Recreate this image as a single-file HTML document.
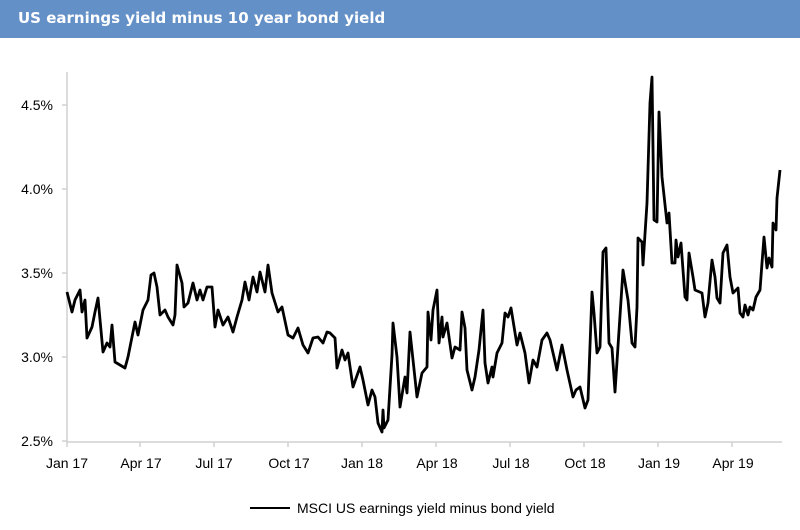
<!DOCTYPE html>
<html><head><meta charset="utf-8"><style>
body{margin:0;background:#fff;width:800px;height:530px;overflow:hidden;font-family:"Liberation Sans",Arial,sans-serif}
.t{position:absolute;left:0;top:0;width:800px;height:38px;background:#6490c8;color:#fff;font-family:"DejaVu Sans",sans-serif;font-weight:bold;font-size:15px;line-height:36px;padding-left:18px;box-sizing:border-box}
</style></head><body>
<div class="t">US earnings yield minus 10 year bond yield</div>
<svg width="800" height="530" style="position:absolute;left:0;top:0" font-family="Liberation Sans, Arial, sans-serif" font-size="14" fill="#000">
<g stroke="#d0d0d0" stroke-width="1.5">
<line x1="67" y1="72" x2="67" y2="442"/>
<line x1="67" y1="442" x2="782" y2="442"/>
<line x1="62" y1="105" x2="67" y2="105"/><line x1="62" y1="189" x2="67" y2="189"/><line x1="62" y1="273" x2="67" y2="273"/><line x1="62" y1="357" x2="67" y2="357"/><line x1="62" y1="441" x2="67" y2="441"/>
<line x1="67" y1="442" x2="67" y2="447"/><line x1="140" y1="442" x2="140" y2="447"/><line x1="214" y1="442" x2="214" y2="447"/><line x1="288" y1="442" x2="288" y2="447"/><line x1="362" y1="442" x2="362" y2="447"/><line x1="436" y1="442" x2="436" y2="447"/><line x1="510" y1="442" x2="510" y2="447"/><line x1="584" y1="442" x2="584" y2="447"/><line x1="658" y1="442" x2="658" y2="447"/><line x1="732" y1="442" x2="732" y2="447"/>
</g>
<g text-anchor="end"><text x="53" y="110">4.5%</text><text x="53" y="194">4.0%</text><text x="53" y="278">3.5%</text><text x="53" y="362">3.0%</text><text x="53" y="446">2.5%</text></g>
<g text-anchor="middle"><text x="67" y="468">Jan 17</text><text x="141" y="468">Apr 17</text><text x="214" y="468">Jul 17</text><text x="289" y="468">Oct 17</text><text x="362" y="468">Jan 18</text><text x="437" y="468">Apr 18</text><text x="511" y="468">Jul 18</text><text x="585" y="468">Oct 18</text><text x="659" y="468">Jan 19</text><text x="733" y="468">Apr 19</text></g>
<line x1="250" y1="508" x2="290" y2="508" stroke="#000" stroke-width="2"/>
<text x="297" y="513">MSCI US earnings yield minus bond yield</text>
<polyline fill="none" stroke="#000" stroke-width="2.8" stroke-linejoin="round" points="67,292 72,312 75,300 80,290 82,312 85,300 87,338 92,327 95,312 98,298 103,352 107,343 110,347 112,325 115,362 120,365 125,368 128,357 132,337 135,322 138,335 143,310 148,300 151,275 154,273 157,287 160,315 165,310 168,317 173,325 175,315 177,265 182,283 184,307 188,303 193,283 197,300 200,290 203,300 207,287 212,287 215,327 218,310 223,325 228,317 233,332 237,317 242,300 245,282 249,300 253,277 257,292 260,272 265,292 268,265 272,293 278,312 282,307 288,335 293,338 298,328 303,345 308,353 313,338 318,337 323,343 327,332 330,333 335,338 337,368 342,350 345,360 348,353 353,387 360,367 363,380 368,405 372,390 375,397 378,423 382,432 383,410 384,428 388,420 392,355 393,323 397,357 400,407 405,377 407,393 410,332 417,397 422,373 427,367 428,312 431,340 433,310 437,290 439,343 442,317 443,337 447,323 452,358 455,347 460,350 462,312 465,328 467,370 472,390 475,377 479,350 483,310 485,363 488,383 492,367 493,377 497,353 502,343 505,313 508,317 511,308 517,345 520,333 525,353 529,383 533,360 537,367 542,340 547,333 550,340 557,370 562,345 567,370 573,397 576,390 580,387 585,408 588,400 592,292 594,313 597,353 600,347 603,252 606,248 609,343 612,348 615,392 623,270 628,300 632,343 635,347 637,307 638,238 642,242 643,265 647,203 650,103 652,77 654,220 657,222 659,112 662,177 667,223 669,213 672,263 675,263 676,240 678,257 681,243 685,297 687,300 689,253 693,277 695,290 702,293 705,317 708,303 712,260 715,277 717,298 720,303 723,253 727,245 730,277 733,293 738,288 740,313 743,317 745,305 748,315 750,307 753,310 756,297 760,290 762,263 764,237 767,268 769,258 772,267 773,223 776,230 777,198 780,170"/>
</svg>
</body></html>
